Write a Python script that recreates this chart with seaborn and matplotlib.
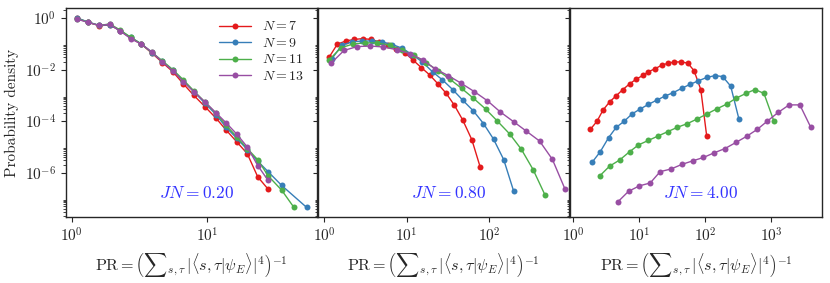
import numpy as np
import pandas as pd
import matplotlib
matplotlib.use("Agg")
import matplotlib.pyplot as plt
import matplotlib.ticker as mticker
import seaborn as sns


# ======================
# CONFIG
# ======================

sns.set_style("ticks")
plt.rcParams["font.family"] = "serif"
plt.rcParams["font.serif"] = ["cmr10", "DejaVu Serif"]
plt.rcParams["mathtext.fontset"] = "cm"
plt.rcParams["axes.formatter.use_mathtext"] = True
plt.rcParams["axes.unicode_minus"] = False
plt.rcParams["font.size"] = 11


# ======================
# DATA
# ======================

sizes = [7, 9, 11, 13]
colors = ["#e41a1c", "#377eb8", "#4daf4a", "#984ea3"]
jn_values = ["0.20", "0.80", "4.00"]
y_major = [1e0, 1e-2, 1e-4, 1e-6]

# JN = 0.20
x1_base = [1.10, 1.32, 1.60, 1.91, 2.29, 2.73, 3.27, 3.91, 4.68, 5.60,
           6.70, 8.01, 9.66, 11.7, 13.8, 16.6, 19.9, 23.8, 28.4]
x1_n7 = x1_base
y1_n7 = [1.0, 0.69, 0.51, 0.55, 0.32, 0.17, 0.098, 0.044, 0.019, 8.3e-3,
         2.8e-3, 1.0e-3, 3.7e-4, 1.3e-4, 4.7e-5, 1.6e-5, 5.5e-6, 6.9e-7, 2.3e-7]
x1_n9 = x1_base + [35.8, 54.8]
y1_n9 = [1.0, 0.71, 0.52, 0.56, 0.32, 0.18, 0.10, 0.046, 0.021, 9.5e-3,
         3.6e-3, 1.4e-3, 5.0e-4, 1.8e-4, 6.0e-5, 2.2e-5, 7.9e-6, 2.8e-6, 1.1e-6,
         3.2e-7, 4.5e-8]
x1_n11 = x1_base + [35.8, 44.1]
y1_n11 = [0.95, 0.69, 0.52, 0.60, 0.34, 0.18, 0.10, 0.047, 0.022, 0.010,
          4.0e-3, 1.5e-3, 5.6e-4, 2.0e-4, 7.2e-5, 2.5e-5, 8.7e-6, 3.2e-6, 7.6e-7,
          2.1e-7, 4.5e-8]
x1_n13 = x1_base
y1_n13 = [0.91, 0.68, 0.52, 0.58, 0.31, 0.16, 0.098, 0.049, 0.020, 9.1e-3,
          3.4e-3, 1.4e-3, 5.6e-4, 2.1e-4, 8.9e-5, 3.2e-5, 1.0e-5, 1.9e-6, 5.0e-7]

# JN = 0.80
x2_n7 = [1.15, 1.45, 1.84, 2.32, 2.93, 3.71, 4.69, 5.92, 7.48, 9.46,
         11.9, 15.1, 19.1, 24.0, 30.2, 38.0, 47.9, 61.7, 77.6]
y2_n7 = [0.030, 0.098, 0.13, 0.15, 0.16, 0.15, 0.12, 0.091, 0.063, 0.046,
         0.024, 0.012, 6.2e-3, 2.8e-3, 1.2e-3, 4.1e-4, 1.1e-4, 1.9e-5, 1.7e-6]
x2_n9 = [1.24, 1.64, 2.18, 2.88, 3.82, 5.06, 6.70, 8.87, 11.7, 15.5,
         20.6, 27.2, 36.1, 47.7, 64.4, 85.3, 113, 150, 198]
y2_n9 = [0.026, 0.089, 0.12, 0.13, 0.13, 0.12, 0.095, 0.068, 0.038, 0.020,
         8.3e-3, 4.0e-3, 1.7e-3, 6.6e-4, 2.5e-4, 8.1e-5, 2.0e-5, 3.2e-6, 1.9e-7]
x2_n11 = [1.15, 1.61, 2.26, 3.16, 4.43, 6.21, 8.69, 12.2, 17.1, 23.9,
          33.4, 46.2, 64.4, 90.2, 126, 177, 245, 341, 472]
y2_n11 = [0.024, 0.071, 0.10, 0.11, 0.11, 0.089, 0.060, 0.036, 0.019, 9.3e-3,
          4.3e-3, 1.9e-3, 7.8e-4, 3.0e-4, 1.0e-4, 3.2e-5, 8.1e-6, 1.3e-6, 1.4e-7]
x2_n13 = [1.22, 1.75, 2.52, 3.64, 5.25, 7.55, 10.9, 15.7, 21.9, 31.9,
          45.6, 66.2, 95.3, 136, 198, 282, 407, 582, 828]
y2_n13 = [0.018, 0.056, 0.079, 0.083, 0.076, 0.060, 0.042, 0.024, 0.011, 5.9e-3,
          3.0e-3, 1.4e-3, 6.2e-4, 2.3e-4, 9.5e-5, 4.1e-5, 1.7e-5, 3.3e-6, 2.3e-7]

# JN = 4.00
x3_n7 = [1.81, 2.29, 2.82, 3.55, 4.48, 5.66, 7.13, 9.01, 11.4, 13.8,
         17.5, 22.1, 27.8, 34.3, 43.3, 54.7, 68.1, 86.1, 106]
y3_n7 = [4.8e-5, 1.0e-4, 2.7e-4, 5.6e-4, 9.8e-4, 1.7e-3, 2.8e-3, 4.3e-3, 6.0e-3, 8.3e-3,
         0.011, 0.015, 0.018, 0.020, 0.020, 0.018, 9.1e-3, 1.7e-3, 2.6e-5]
x3_n9 = [1.92, 2.56, 3.43, 4.48, 5.93, 7.75, 10.4, 13.8, 18.5, 24.8,
         33.1, 44.4, 59.3, 79.3, 106, 142, 185, 245, 327]
y3_n9 = [2.5e-6, 6.5e-6, 2.3e-5, 5.8e-5, 1.0e-4, 1.9e-4, 3.0e-4, 4.5e-4, 6.6e-4, 9.5e-4,
         1.3e-3, 1.9e-3, 2.7e-3, 3.7e-3, 5.0e-3, 5.9e-3, 5.4e-3, 2.3e-3, 1.2e-4]
x3_n11 = [2.50, 3.55, 5.03, 7.13, 9.75, 13.8, 19.6, 26.9, 38.0, 54.0,
          74.8, 106, 150, 213, 295, 418, 572, 784, 1110]
y3_n11 = [7.4e-7, 1.8e-6, 3.1e-6, 6.5e-6, 1.2e-5, 1.8e-5, 2.7e-5, 3.9e-5, 5.8e-5, 8.1e-5,
          1.2e-4, 1.9e-4, 3.0e-4, 4.6e-4, 7.8e-4, 1.2e-3, 1.7e-3, 1.2e-3, 1.0e-4]
x3_n13 = [4.69, 6.89, 10.1, 14.7, 20.8, 30.5, 44.4, 65.2, 94.2, 137,
          201, 295, 429, 619, 879, 1290, 1890, 2750, 4000]
y3_n13 = [7.2e-8, 1.9e-7, 3.1e-7, 4.0e-7, 1.1e-6, 1.4e-6, 2.1e-6, 2.9e-6, 3.9e-6, 5.9e-6,
          8.7e-6, 1.5e-5, 2.6e-5, 4.8e-5, 1.0e-4, 2.2e-4, 4.3e-4, 4.3e-4, 6.0e-5]

panels = [
    [(x1_n7, y1_n7), (x1_n9, y1_n9), (x1_n11, y1_n11), (x1_n13, y1_n13)],
    [(x2_n7, y2_n7), (x2_n9, y2_n9), (x2_n11, y2_n11), (x2_n13, y2_n13)],
    [(x3_n7, y3_n7), (x3_n9, y3_n9), (x3_n11, y3_n11), (x3_n13, y3_n13)],
]

xlims = [(0.898, 65.3), (0.845, 933), (0.90, 5900)]
ylim = (1.9e-8, 2.5)


# ======================
# PLOT
# ======================

fig, axes = plt.subplots(1, 3, figsize=(8.3, 2.83), dpi=100, sharey=True)
fig.subplots_adjust(left=0.079, right=0.99, top=0.972, bottom=0.233, wspace=0.004)

xlabel = r"$\mathrm{PR} = \left({\sum}_{s,\tau}\,|\langle s, \tau | \psi_E \rangle|^4\right)^{-1}$"
hue_labels = [rf"$N = {n}$" for n in sizes]

for i, ax in enumerate(axes):
    rows = []
    for label, (xs, ys) in zip(hue_labels, panels[i]):
        for xv, yv in zip(xs, ys):
            rows.append({"pr": xv, "density": yv, "N": label})
    df = pd.DataFrame(rows)

    sns.lineplot(
        data=df, x="pr", y="density", hue="N",
        hue_order=hue_labels, palette=colors,
        marker="o", markersize=4.3, markeredgewidth=0,
        linewidth=1, estimator=None, sort=False,
        legend=(i == 0), ax=ax
    )

    ax.set_xscale("log")
    ax.set_yscale("log")
    ax.set_xlim(*xlims[i])
    ax.set_ylim(*ylim)
    ax.xaxis.set_minor_locator(mticker.NullLocator())
    ax.set_xlabel(xlabel, fontsize=11.6)
    if i == 0:
        ax.set_ylabel("Probability density", fontsize=11)
    else:
        ax.set_ylabel(None)
    ax.tick_params(which="both", direction="out", labelsize=11)
    ax.text(0.52, 0.115, rf"$JN = {jn_values[i]}$", color="#3333ff",
            fontsize=12.5, ha="center", va="center", transform=ax.transAxes)
    for sp in ax.spines.values():
        sp.set_visible(True)
        sp.set_linewidth(1)

axes[0].yaxis.set_major_locator(mticker.FixedLocator(y_major))
axes[0].yaxis.set_major_formatter(mticker.LogFormatterSciNotation())
axes[0].yaxis.set_minor_locator(mticker.LogLocator(base=100.0, subs=np.arange(2, 10)))
axes[0].yaxis.set_minor_formatter(mticker.NullFormatter())

leg = axes[0].legend(loc="upper right", frameon=False, fontsize=10,
                     handlelength=2.3, labelspacing=0.25,
                     bbox_to_anchor=(1.0, 1.0))

fig.savefig("out.png", dpi=100)
